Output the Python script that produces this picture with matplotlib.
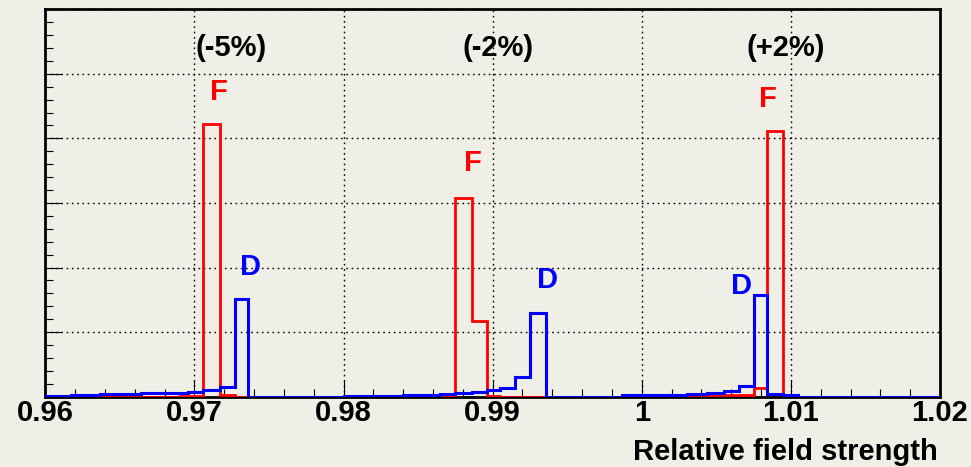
import numpy as np
import matplotlib
matplotlib.use('Agg')
import matplotlib.pyplot as plt
import matplotlib.ticker as ticker

plt.rcParams['font.family'] = ['Liberation Sans', 'DejaVu Sans']
plt.rcParams['font.weight'] = 'bold'

# histogram data (bin edges in relative field strength, arbitrary heights)
F_edges = [0.9600, 0.9690, 0.9706, 0.9717, 0.9727, 0.9736, 0.9850, 0.9875,
           0.9886, 0.9896, 0.9905, 0.9987, 1.0075, 1.0084, 1.0095, 1.0200]
F_vals = [0, 0.01, 4.22, 0.03, 0, 0, 0.01, 3.07, 1.17, 0.01, 0, 0.02, 0.13, 4.12, 0]

D_edges = [0.9600, 0.9617, 0.9637, 0.9664, 0.9696, 0.9706, 0.9717, 0.9727, 0.9736,
           0.9800, 0.9840, 0.9865, 0.9875, 0.9886, 0.9896, 0.9905, 0.9915, 0.9925, 0.9936,
           0.9987, 1.0030, 1.0044, 1.0055, 1.0065, 1.0075, 1.0084, 1.0095, 1.0105, 1.0200]
D_vals = [0.01, 0.03, 0.045, 0.055, 0.07, 0.10, 0.15, 1.51,
          0.0,
          0.015, 0.03, 0.04, 0.055, 0.07, 0.10, 0.14, 0.30, 1.30,
          0.0,
          0.02, 0.035, 0.05, 0.09, 0.16, 1.58, 0.04, 0.02, 0.0]

# annotations
groups = ['(-5%)', '(-2%)', '(+2%)']
group_x = [0.97245, 0.99039, 1.00964]
F_lab_x = [0.97166, 0.98865, 1.00847]
F_lab_y = [4.60, 3.50, 4.49]
D_lab_x = [0.97375, 0.99371, 1.00672]
D_lab_y = [1.885, 1.69, 1.587]

bg = '#f0efe7'
fig = plt.figure(figsize=(9.71, 4.67), dpi=100, facecolor=bg)
ax = fig.add_axes([45.3/971, 1-396.6/467, (940-45.3)/971, (396.6-9.3)/467])
ax.set_facecolor(bg)

ax.stairs(F_vals, F_edges, color='#ff0000', linewidth=2.0, zorder=3)
ax.stairs(D_vals, D_edges, color='#0000ff', linewidth=2.2, zorder=4)

ax.set_xlim([0.96, 1.02])
ax.set_ylim([0, 6])

ax.xaxis.set_major_locator(ticker.MultipleLocator(0.01))
ax.xaxis.set_minor_locator(ticker.MultipleLocator(0.002))
ax.yaxis.set_major_locator(ticker.MultipleLocator(1))
ax.yaxis.set_minor_locator(ticker.MultipleLocator(0.2))
ax.xaxis.set_major_formatter(ticker.FuncFormatter(lambda v, p: '%g' % round(v, 3)))
ax.yaxis.set_major_formatter(ticker.NullFormatter())

ax.tick_params(which='both', direction='in', top=False, right=False, color='k')
ax.tick_params(which='major', length=12, width=0.8, labelsize=21, pad=2)
ax.tick_params(which='minor', length=5.5, width=0.8)

ax.grid(which='major', color='k', linestyle=(0, (1.2, 2.6)), linewidth=1.0)

for s in ax.spines.values():
    s.set_linewidth(2)
    s.set_color('k')

for t, x in zip(groups, group_x):
    ax.text(x, 5.27, t, ha='center', va='baseline', fontsize=21, color='k')
for x, y in zip(F_lab_x, F_lab_y):
    ax.text(x, y, 'F', ha='center', va='baseline', fontsize=21, color='#ff0000')
for x, y in zip(D_lab_x, D_lab_y):
    ax.text(x, y, 'D', ha='center', va='baseline', fontsize=21, color='#0000ff')

ax.set_xlabel('Relative field strength', fontsize=21, fontweight='bold',
              ha='right', va='baseline')
ax.xaxis.set_label_coords(0.9977, -0.1637)

fig.savefig('out.png', dpi=100, facecolor=bg)
